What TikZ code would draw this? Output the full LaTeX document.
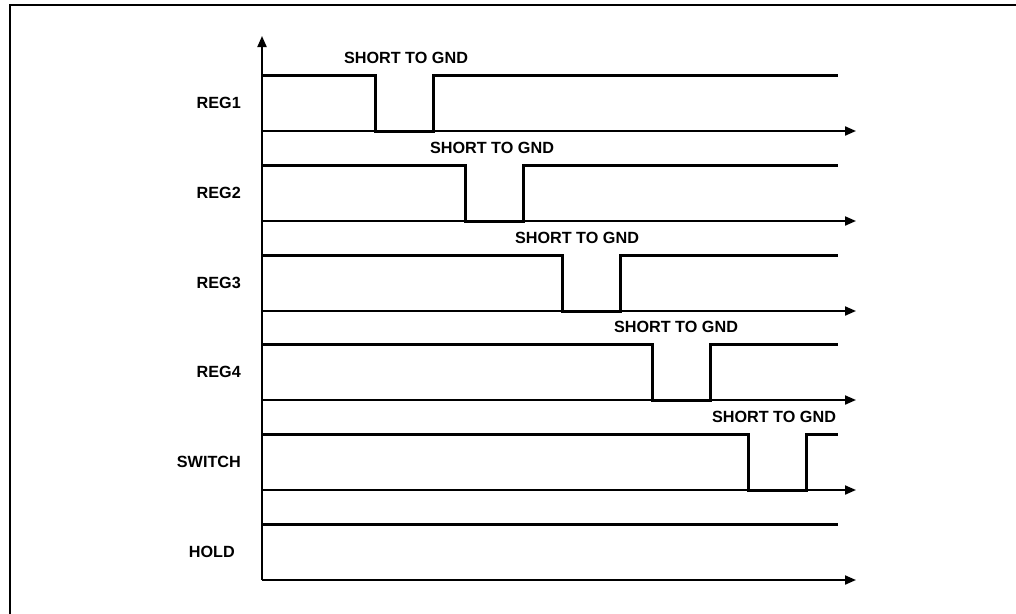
\documentclass[tikz,border=0pt]{standalone}
\usepackage{fontspec}
\setmainfont{Liberation Sans}
\usetikzlibrary{arrows.meta}
\tikzset{
  sig/.style={line width=3pt, line join=miter},
  axis/.style={line width=2pt, -{Triangle[length=11pt,width=9pt]}},
  lbl/.style={font=\fontsize{16.2}{19}\selectfont\bfseries, inner sep=0pt},
  frame/.style={line width=2.5pt}
}
\begin{document}
\begin{tikzpicture}[x=1pt,y=-1pt]
\useasboundingbox (0,0) rectangle (1016,613);
\fill[white] (0,0) rectangle (1016,613);
\draw[frame] (1018,5) -- (10,5) -- (10,615);
% vertical axis
\coordinate (yb) at (262,580);
\coordinate (yt) at (262,36);
\draw[axis] (yb) -- (yt);
% rows: high y, dip start, label, short label x
\foreach \n/\hy/\dx/\lab/\sx in {1/75/375/REG1/406, 2/165/465/REG2/492, 3/255/562/REG3/577, 4/344/652/REG4/676, 5/434/748/SWITCH/774}{
  \pgfmathsetmacro{\ly}{\hy+56}
  \pgfmathsetmacro{\ex}{\dx+58}
  \coordinate (a\n) at (262,\ly);
  \coordinate (e\n) at (856,\ly);
  \draw[axis] (a\n) -- (e\n);
  \draw[sig] (262,\hy) -- (\dx,\hy) -- (\dx,\ly) -- (\ex,\ly) -- (\ex,\hy) -- (838,\hy);
  \node[lbl, anchor=east] (l\n) at (241,{\hy+28}) {\lab};
  \node[lbl] (s\n) at (\sx,{\hy-17}) {SHORT TO GND};
}
% HOLD
\coordinate (a6) at (262,580);
\coordinate (e6) at (856,580);
\draw[axis] (a6) -- (e6);
\draw[sig] (262,524) -- (838,524);
\node[lbl, anchor=east] (l6) at (235,552) {HOLD};
\end{tikzpicture}
\end{document}
